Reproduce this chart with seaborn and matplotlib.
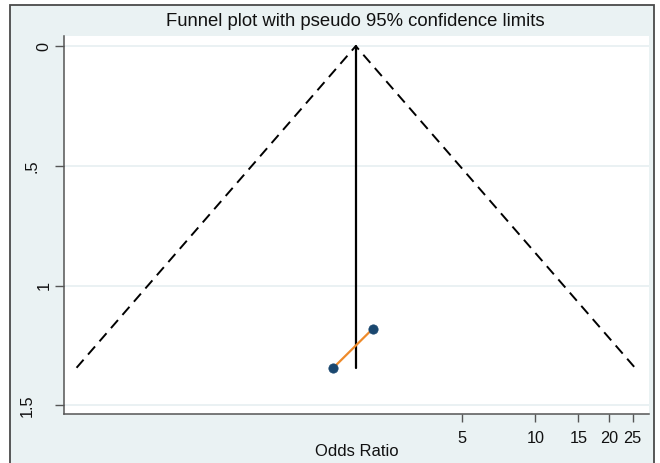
import numpy as np
import pandas as pd
import matplotlib
matplotlib.use("Agg")
import matplotlib.pyplot as plt
from matplotlib.patches import Rectangle
from matplotlib.transforms import ScaledTranslation
from matplotlib.ticker import FixedLocator, FixedFormatter, NullLocator
import seaborn as sns

# ---- data ----
study_or = [1.49, 2.16]          # odds ratios of the two studies
study_se = [1.343, 1.18]         # standard errors of log OR
pooled_or = 1.84                 # fixed-effect pooled odds ratio
se_max = 1.343                   # largest SE (bottom of funnel)
z95 = 1.96
x_ticks = [5, 10, 15, 20, 25]
x_tick_labels = ["5", "10", "15", "20", "25"]
y_ticks = [0, 0.5, 1, 1.5]
y_tick_labels = ["0", ".5", "1", "1.5"]

sns.set_theme(style="white")
plt.rcParams["font.family"] = ["Liberation Sans", "DejaVu Sans"]

W, H = 660, 463
fig = plt.figure(figsize=(W / 100, H / 100), dpi=100, facecolor="white")

# outer graph region (light blue-grey with dark border)
bg = Rectangle((10.5 / W, -0.05), (653.5 - 10.5) / W, (H - 5) / H + 0.05,
               transform=fig.transFigure, facecolor="#eaf2f3",
               edgecolor="#4a4a4a", linewidth=1.3, zorder=-5)
fig.patches.append(bg)

ax = fig.add_axes([63.5 / W, (H - 414) / H, (649 - 63.5) / W, (414 - 36) / H])
ax.set_zorder(2)
ax.set_facecolor("white")

# funnel limits
funnel = pd.DataFrame({
    "or": [pooled_or * np.exp(-z95 * se_max), pooled_or, pooled_or * np.exp(z95 * se_max)],
    "se": [se_max, 0, se_max],
})
center = pd.DataFrame({"or": [pooled_or, pooled_or], "se": [0, se_max]})
studies = pd.DataFrame({"or": study_or, "se": study_se})

# horizontal gridlines
for yt in y_ticks:
    ax.axhline(yt, color="#e6eff1", linewidth=1.2, zorder=0.5)

sns.lineplot(data=funnel, x="or", y="se", ax=ax, color="black", linewidth=1.4,
             linestyle=(0, (5.5, 3.5)), sort=False, estimator=None, zorder=2)
sns.lineplot(data=center, x="or", y="se", ax=ax, color="black", linewidth=1.6,
             sort=False, estimator=None, zorder=2)
sns.lineplot(data=studies, x="or", y="se", ax=ax, color="#ee8a2a", linewidth=1.6,
             sort=False, estimator=None, zorder=3)
sns.scatterplot(data=studies, x="or", y="se", ax=ax, color="#1a476f", s=45,
                edgecolor="#1a476f", linewidth=0.5, zorder=4)

ax.set_xscale("log")
ax.set_xlim(0.117, 29.2)
ax.set_ylim(1.536, -0.042)

ax.xaxis.set_major_locator(FixedLocator(x_ticks))
ax.xaxis.set_major_formatter(FixedFormatter(x_tick_labels))
ax.xaxis.set_minor_locator(NullLocator())
ax.yaxis.set_major_locator(FixedLocator(y_ticks))
ax.yaxis.set_major_formatter(FixedFormatter(y_tick_labels))

ax.tick_params(axis="both", which="major", direction="out", width=1,
               color="#555555", labelsize=11.7, labelcolor="#111111",
               left=True, bottom=True)
ax.tick_params(axis="x", length=5.5, pad=7)
ax.tick_params(axis="y", length=6.5, pad=7.5, labelrotation=90)

# Stata-style placement of the vertical y labels
y_label_shift_px = [0, -12.5, 0, -16.5]
for lab, dx in zip(ax.get_yticklabels(), y_label_shift_px):
    lab.set_ha("center")
    lab.set_va("center")
    lab.set_transform(lab.get_transform() + ScaledTranslation(dx / 100, 0, fig.dpi_scale_trans))

for side in ["top", "right"]:
    ax.spines[side].set_visible(False)
for side in ["left", "bottom"]:
    ax.spines[side].set_color("#555555")
    ax.spines[side].set_linewidth(1.1)

ax.set_xlabel("")
ax.set_ylabel("")

fig.text(355 / W, (H - 22) / H, "Funnel plot with pseudo 95% confidence limits",
         ha="center", va="center", fontsize=13.3, color="#111111")
fig.text(356.7 / W, (H - 451.5) / H, "Odds Ratio", ha="center", va="center",
         fontsize=12, color="#111111")

fig.savefig("out.png", dpi=100, facecolor="white")
